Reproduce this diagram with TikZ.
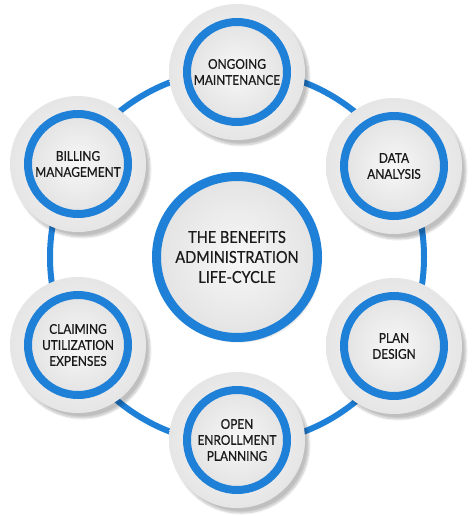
\documentclass[tikz,border=0pt]{standalone}
\usepackage{fontspec}
\setmainfont{Lato}[FakeStretch=0.88, FakeBold=0.6]
\usetikzlibrary{shadows.blur}
\definecolor{ringblue}{HTML}{1F80D8}
\definecolor{txt}{HTML}{1A1A1A}
\tikzset{
  halo/.style={circle, minimum size=#1, inner sep=0pt,
    shading=radial, inner color=black!3, outer color=black!10,
    blur shadow={shadow xshift=4pt, shadow yshift=-5pt, shadow blur steps=10, shadow opacity=25}},
  stage/.style={circle, minimum size=100pt, inner sep=0pt, align=center,
    draw=ringblue, line width=8pt, shading=radial, inner color=black!3, outer color=black!11,
    text=txt, font=\fontsize{13.5}{16}\selectfont},
  hub/.style={circle, minimum size=161pt, inner sep=0pt, align=center,
    draw=ringblue, line width=9pt, shading=radial, inner color=black!3, outer color=black!11,
    text=txt, font=\fontsize{16.5}{20}\selectfont,
    blur shadow={shadow xshift=3pt, shadow yshift=-4pt, shadow blur steps=8, shadow opacity=20}},
}
\begin{document}
\begin{tikzpicture}[x=1pt,y=-1pt]
\useasboundingbox (0,0) rectangle (474,516);
\coordinate (c) at (237,257);
\coordinate (p1) at (237,72);
\coordinate (p2) at (394,166);
\coordinate (p3) at (394,346);
\coordinate (p4) at (237,440);
\coordinate (p5) at (78,345);
\coordinate (p6) at (78,164);
% connecting ring
\draw[ringblue, line width=6pt] (c) circle[radius=187];
% halos
\foreach \p in {p1,p2,p3,p4,p5,p6}{\node[halo=136pt] at (\p) {};}
% nodes
\node[hub] (hub) at (c) {THE BENEFITS\\ADMINISTRATION\\LIFE-CYCLE};
\node[stage] (s1) at (p1) {ONGOING\\MAINTENANCE};
\node[stage] (s2) at (p2) {DATA\\ANALYSIS};
\node[stage] (s3) at (p3) {PLAN\\DESIGN};
\node[stage] (s4) at (p4) {OPEN\\ENROLLMENT\\PLANNING};
\node[stage] (s5) at (p5) {CLAIMING\\UTILIZATION\\EXPENSES};
\node[stage] (s6) at (p6) {BILLING\\MANAGEMENT};
\end{tikzpicture}
\end{document}
